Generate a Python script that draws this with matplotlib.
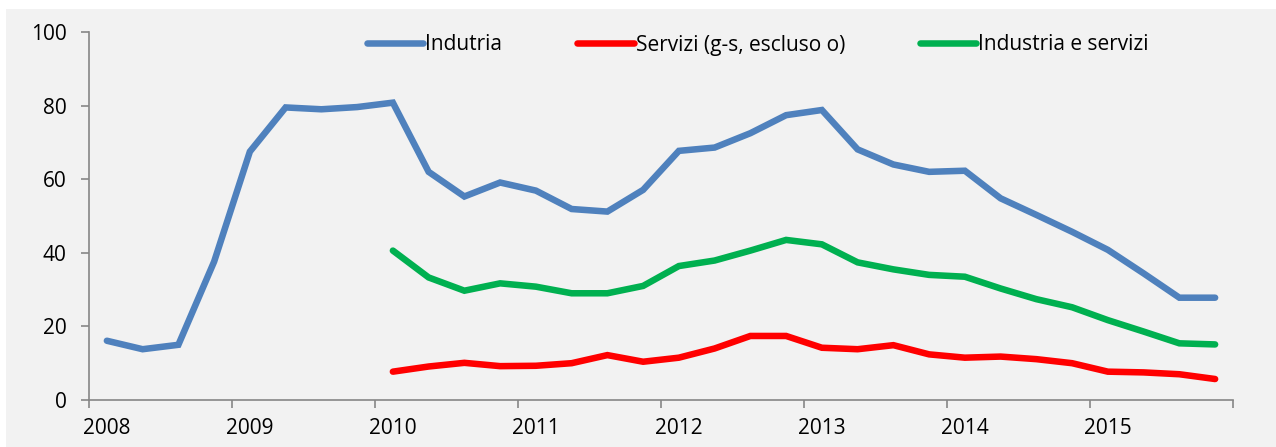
import matplotlib
matplotlib.use("Agg")
import matplotlib.pyplot as plt
from matplotlib.patches import Rectangle
import numpy as np

years = ["2008", "2009", "2010", "2011", "2012", "2013", "2014", "2015"]
n_quarters = 32

industria = [16.1, 13.8, 15.0, 37.6, 67.5, 79.5, 79.0, 79.6,
             80.8, 62.0, 55.3, 59.1, 56.9, 51.9, 51.2, 57.1,
             67.7, 68.6, 72.5, 77.4, 78.8, 68.1, 64.0, 62.0,
             62.3, 54.8, 50.3, 45.7, 40.8, 34.4, 27.8, 27.8]

servizi = [None] * 8 + [7.7, 9.1, 10.1, 9.2, 9.3, 10.0, 12.2, 10.4,
                        11.5, 14.0, 17.4, 17.4, 14.2, 13.8, 14.9, 12.4,
                        11.5, 11.8, 11.1, 10.0, 7.7, 7.5, 7.0, 5.7]

ind_serv = [None] * 8 + [40.6, 33.3, 29.7, 31.7, 30.8, 29.0, 29.0, 31.0,
                         36.4, 37.9, 40.6, 43.5, 42.3, 37.4, 35.5, 34.0,
                         33.5, 30.3, 27.4, 25.2, 21.7, 18.6, 15.4, 15.1]

labels = ["Indutria", "Servizi (g-s, escluso o)", "Industria e servizi"]
colors = ["#4F81BD", "#FF0000", "#00B050"]

plt.rcParams['font.family'] = ['Open Sans', 'DejaVu Sans']
FS = 15

fig = plt.figure(figsize=(12.76, 4.47), dpi=100, facecolor="white")
fig.patches.append(Rectangle((6 / 1276, 0), 1 - 6 / 1276, 1 - 9 / 447,
                             transform=fig.transFigure, facecolor="#F2F2F2",
                             edgecolor="none", zorder=-10))

ax = fig.add_axes([89 / 1276, 47 / 447, (1233 - 89) / 1276, (400 - 32) / 447])
ax.set_facecolor("none")

x = np.arange(n_quarters) + 0.5

def to_arr(v):
    return np.array([np.nan if a is None else a for a in v], dtype=float)

for data, lab, col in zip([industria, servizi, ind_serv], labels, colors):
    ax.plot(x, to_arr(data), color=col, lw=4.7, label=lab,
            solid_capstyle="round", solid_joinstyle="miter")

ax.set_xlim(0, n_quarters)
ax.set_ylim(0, 100)
ax.set_yticks(np.arange(0, 101, 20))
ax.set_xticks(np.arange(0, n_quarters + 1, 4))
ax.set_xticklabels([])
ax.set_xticks(np.arange(len(years)) * 4 + 0.5, minor=True)
ax.set_xticklabels(years, minor=True)

axis_col = "#868686"
for s in ["top", "right"]:
    ax.spines[s].set_visible(False)
for s in ["left", "bottom"]:
    ax.spines[s].set_color(axis_col)
    ax.spines[s].set_linewidth(1.2)

ax.tick_params(axis="y", which="major", direction="out", length=6, width=1.2,
               color=axis_col, labelsize=FS, pad=10, labelcolor="black")
ax.tick_params(axis="x", which="major", direction="out", length=6, width=1.2,
               color=axis_col)
ax.tick_params(axis="x", which="minor", length=0, labelsize=FS, pad=13,
               labelcolor="black")

leg = fig.legend(loc="center", bbox_to_anchor=(758 / 1276, 1 - 45 / 447),
                 ncol=3, frameon=False, fontsize=FS, handlelength=2.7,
                 handletextpad=0.1, columnspacing=3.6)

fig.savefig("out.png", dpi=100, facecolor="white")
